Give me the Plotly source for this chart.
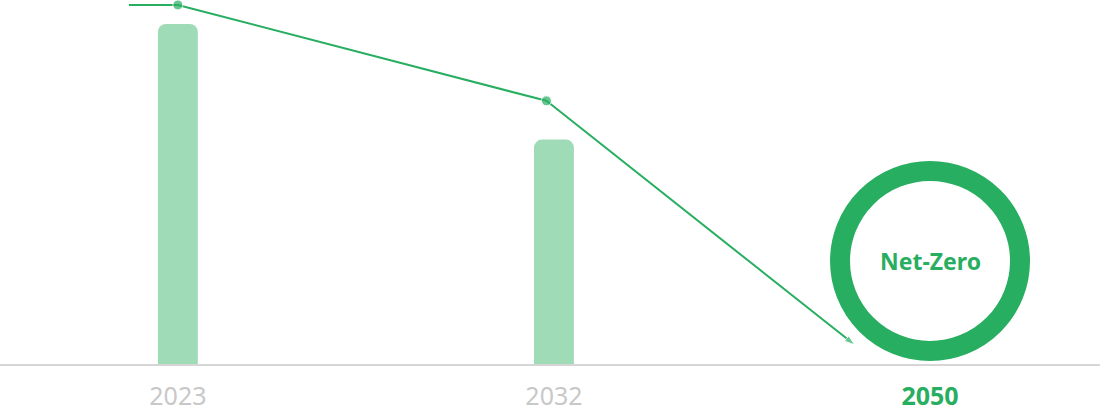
import plotly.graph_objects as go

# categories and values (index, 2023 = 100)
years = ["2023", "2032", "2050"]
bar_pos = [0, 1]
bar_vals = [100, 66]

# target path (same index units); first point is the lead-in stub, last is the arrow tip
line_x = [-0.13, 0, 0.98, 1.8]
line_y = [105.6, 105.6, 77.4, 5.6]

ring_y = 30.3
GREEN = "#27ae60"
BAR = "#9edbb6"

fig = go.Figure()

fig.add_trace(go.Bar(
    x=bar_pos, y=bar_vals, width=0.106,
    marker=dict(color=BAR, line=dict(width=0)),
    hoverinfo="skip",
))

fig.add_trace(go.Scatter(
    x=line_x, y=line_y, mode="lines+markers",
    line=dict(color=GREEN, width=2),
    marker=dict(color=GREEN, size=[0, 10, 10, 11],
                symbol=["circle", "circle", "circle", "arrow"],
                angleref="previous"),
    hoverinfo="skip",
))

# Net-Zero ring
fig.add_shape(type="circle", xref="x", yref="y",
              xsizemode="pixel", ysizemode="pixel",
              xanchor=2, yanchor=ring_y,
              x0=-90, x1=90, y0=-90, y1=90,
              line=dict(color=GREEN, width=20), fillcolor="rgba(0,0,0,0)")

fig.add_annotation(x=2, y=ring_y, text="<b>Net-Zero</b>", showarrow=False,
                   font=dict(size=23, color=GREEN, family="Noto Sans"))

ticktext = [
    "<span style='color:#c8c8c8'>2023</span>",
    "<span style='color:#c8c8c8'>2032</span>",
    "<b><span style='color:%s'>2050</span></b>" % GREEN,
]

fig.update_layout(
    width=1100, height=413,
    margin=dict(l=0, r=0, t=0, b=49),
    plot_bgcolor="white", paper_bgcolor="white",
    showlegend=False,
    barcornerradius=8,
    font=dict(family="Noto Sans", size=25),
    xaxis=dict(range=[-0.473, 2.452], tickvals=[0, 1, 2], ticktext=ticktext,
               showgrid=False, zeroline=False, showline=True,
               linecolor="#d6d6d6", linewidth=2, automargin=False,
               ticks="outside", ticklen=9, tickcolor="rgba(0,0,0,0)"),
    yaxis=dict(range=[0, 107.06], visible=False, showgrid=False),
)

fig.write_html("out.html", config={"displayModeBar": False},
               post_script="document.body.style.margin='0';")
